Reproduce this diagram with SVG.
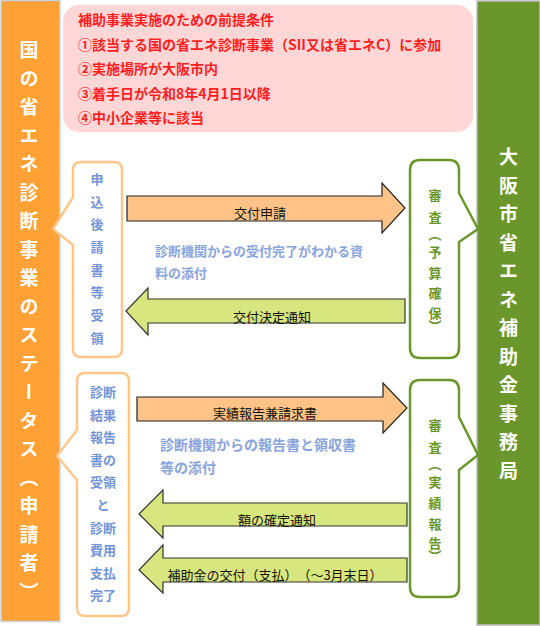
<svg xmlns="http://www.w3.org/2000/svg" width="540" height="626" viewBox="0 0 540 626">
<style>
text{font-family:"Noto Sans CJK JP","Noto Sans",sans-serif;text-spacing-trim:space-all}
.col-t{font-size:19px;font-weight:700;fill:#fff;writing-mode:vertical-rl;letter-spacing:9.5px}
.cond{font-size:14px;font-weight:700;fill:#ff1f1f}
.blue{font-size:13px;font-weight:700;fill:#7394d6}
.note{font-weight:700;fill:#8aa4dc}
.green-t{font-size:13px;font-weight:700;fill:#6b962b;writing-mode:vertical-rl}
.lbl{font-size:13px;fill:#111;text-anchor:middle}
.lbox{fill:#fff;stroke:#ffc78c;stroke-width:2.5;stroke-linejoin:round}
.rbox{fill:#fff;stroke:#6b962b;stroke-width:2.5;stroke-linejoin:round}
.arr-o{fill:#ffc387;stroke:#222;stroke-width:1.2}
.arr-g{fill:#d8e67f;stroke:#333;stroke-width:1.2}
</style>
<g id="left-column">
<rect x="1" y="0.5" width="59" height="621" fill="#ffa135" stroke="#c8d2de" stroke-width="1.5"/>
<text class="col-t" x="29" y="40.5">国の省エネ診断事業のステータス（申請者）</text>
</g>
<g id="right-column">
<rect x="477" y="1" width="63" height="624" fill="#6b962b" stroke="#bdbdbd" stroke-width="1.5"/>
<text class="col-t" x="508.5" y="147.5">大阪市省エネ補助金事務局</text>
</g>
<g id="conditions">
<rect x="63" y="5" width="410" height="127" rx="16" fill="#ffd7d7"/>
<text class="cond" x="78" y="25">補助事業実施のための前提条件</text>
<text class="cond" x="78" y="49.5">①該当する国の省エネ診断事業（SII又は省エネC）に参加</text>
<text class="cond" x="78" y="74">②実施場所が大阪市内</text>
<text class="cond" x="78" y="98.5">③着手日が令和8年4月1日以降</text>
<text class="cond" x="78" y="123">④中小企業等に該当</text>
</g>
<g id="applicant-box-1">
<path class="lbox" d="M81,162 H114 Q122,162 122,170 V349 Q122,357 114,357 H81 Q73,357 73,349 V245 L53,229 L73,197 V170 Q73,162 81,162 Z"/>
<text class="blue" x="97" y="172.5" style="writing-mode:vertical-rl;letter-spacing:9.7px">申込後請書等受領</text>
</g>
<g id="applicant-box-2">
<path class="lbox" d="M85,373 H121 Q129,373 129,381 V608 Q129,616 121,616 H85 Q77,616 77,608 V480 L57,456 L77,430 V381 Q77,373 85,373 Z"/>
<g class="blue" text-anchor="middle">
<text x="103" y="397">診断</text>
<text x="103" y="419.6">結果</text>
<text x="103" y="442.2">報告</text>
<text x="103" y="464.8">書の</text>
<text x="103" y="487.4">受領</text>
<text x="103" y="510">と</text>
<text x="103" y="532.6">診断</text>
<text x="103" y="555.2">費用</text>
<text x="103" y="577.8">支払</text>
<text x="103" y="600.4">完了</text>
</g>
</g>
<g id="office-box-1">
<path class="rbox" d="M420,160 H449 Q459,160 459,170 V193 L478,229 L459,242 V348 Q459,358 449,358 H420 Q410,358 410,348 V170 Q410,160 420,160 Z"/>
<text class="green-t" x="435"><tspan y="188.5">審</tspan><tspan y="210.5">査</tspan><tspan y="228">（</tspan><tspan y="245.5">予</tspan><tspan y="266.5">算</tspan><tspan y="286.5">確</tspan><tspan y="306.5">保</tspan><tspan y="319.5">）</tspan></text>
</g>
<g id="office-box-2">
<path class="rbox" d="M420,380 H449 Q459,380 459,390 V417 L478,455 L459,470 V587 Q459,597 449,597 H420 Q410,597 410,587 V390 Q410,380 420,380 Z"/>
<text class="green-t" x="435"><tspan y="418.5">審</tspan><tspan y="440.5">査</tspan><tspan y="458">（</tspan><tspan y="475.5">実</tspan><tspan y="496.5">績</tspan><tspan y="517.5">報</tspan><tspan y="536.5">告</tspan><tspan y="549.5">）</tspan></text>
</g>
<g id="connectors">
<path class="arr-o" d="M127,196 H382 V183 L405,208 L382,233 V221 H127 Z"/>
<text class="lbl" x="260" y="218">交付申請</text>
<path class="arr-g" d="M405,299 H148 V288 L126,311 L148,335 V323 H405 Z"/>
<text class="lbl" x="272" y="322">交付決定通知</text>
<path class="arr-o" d="M137,397 H383 V383 L407,408 L383,433 V421 H137 Z"/>
<text class="lbl" x="265" y="418">実績報告兼請求書</text>
<path class="arr-g" d="M407,503 H163 V490 L139,514 L163,538 V526 H407 Z"/>
<text class="lbl" x="277" y="525">額の確定通知</text>
<path class="arr-g" d="M407,558 H163 V545 L139,570 L163,593 V582 H407 Z"/>
<text class="lbl" x="275" y="580">補助金の交付（支払）（～3月末日）</text>
</g>
<g id="notes">
<text class="note" x="155" y="256" font-size="13">診断機関からの受付完了がわかる資</text>
<text class="note" x="155" y="278" font-size="13">料の添付</text>
<text class="note" x="160" y="450" font-size="14">診断機関からの報告書と領収書</text>
<text class="note" x="160" y="473" font-size="14">等の添付</text>
</g>
</svg>
